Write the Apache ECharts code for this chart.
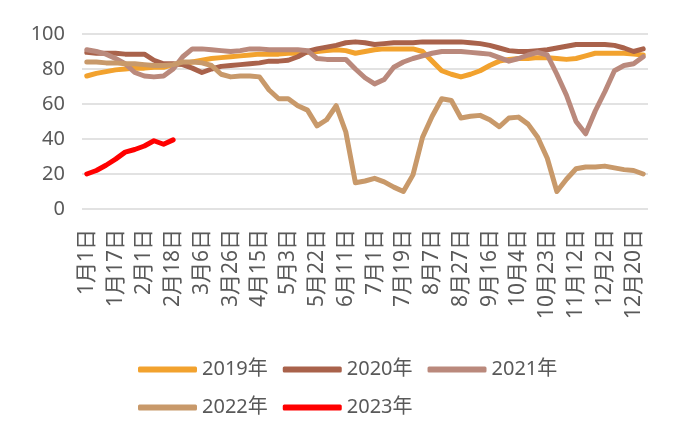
<!DOCTYPE html>
<html>
<head>
<meta charset="utf-8">
<script src="https://cdn.jsdelivr.net/npm/echarts@6/dist/echarts.min.js"></script>
<style>
  html, body { margin: 0; padding: 0; background: #fff; }
  #chart { width: 680px; height: 443px; }
</style>
</head>
<body>
<div id="chart"></div>
<script>
var dates = ['1月1日', '1月6日', '1月11日', '1月17日', '1月22日', '1月27日', '2月1日', '2月7日', '2月12日', '2月18日',
  '2月23日', '3月1日', '3月6日', '3月13日', '3月19日', '3月26日', '4月2日', '4月8日', '4月15日', '4月21日',
  '4月27日', '5月3日', '5月9日', '5月15日', '5月22日', '5月28日', '6月4日', '6月11日', '6月18日', '6月24日',
  '7月1日', '7月7日', '7月13日', '7月19日', '7月25日', '7月31日', '8月7日', '8月14日', '8月20日', '8月27日',
  '9月3日', '9月9日', '9月16日', '9月22日', '9月28日', '10月4日', '10月10日', '10月16日', '10月23日', '10月30日',
  '11月5日', '11月12日', '11月19日', '11月25日', '12月2日', '12月8日', '12月14日', '12月20日', '12月26日'];

var y2019 = [76, 77.5, 78.5, 79.5, 80, 80.5, 80.5, 81, 81, 82.5,
  83, 84, 85, 86, 86.5, 87, 87.5, 88, 88.5, 88.5,
  88.5, 89, 89, 89.5, 90, 90.5, 91, 90.5, 89, 90,
  91, 91.5, 91.5, 91.5, 91.5, 90, 84.5, 79, 77, 75.5,
  77, 79, 82, 84.5, 85.5, 86, 86, 86.5, 86.5, 86,
  85.5, 86, 87.5, 89, 89, 89, 89, 88.5, 88];
var y2020 = [89.5, 89, 89, 89, 88.5, 88.5, 88.5, 85, 83, 83,
  82.5, 80.5, 78, 80, 81.5, 82, 82.5, 83, 83.5, 84.5,
  84.5, 85, 87, 90, 91.5, 92.5, 93.5, 95, 95.5, 95,
  94, 94.5, 95, 95, 95, 95.5, 95.5, 95.5, 95.5, 95.5,
  95, 94.5, 93.5, 92, 90.5, 90, 90, 90.5, 91, 92,
  93, 94, 94, 94, 94, 93.5, 92, 90, 91.5];
var y2021 = [91, 90, 88.5, 86, 83, 78, 76, 75.5, 76, 80,
  87, 91.5, 91.5, 91, 90.5, 90, 90.5, 91.5, 91.5, 91,
  91, 91, 91, 90.5, 86, 85.5, 85.5, 85.5, 80, 75,
  71.5, 74, 81, 84, 86, 87.5, 89, 90, 90, 90,
  89.5, 89, 88.5, 86.5, 84.5, 86, 88, 89.5, 88, 77,
  65, 50, 43, 56, 67, 79, 82, 83, 87];
var y2022 = [84, 84, 83.5, 83.5, 83, 83, 82.5, 82, 82, 82.5,
  84, 84, 83.5, 82, 77, 75.5, 76, 76, 75.5, 68,
  63, 63, 59, 56.5, 47.5, 51, 59, 44, 15, 16,
  17.5, 15.5, 12.5, 10, 19.5, 41, 53, 63, 62, 52,
  53, 53.5, 51, 47, 52, 52.5, 48.5, 41, 29, 10,
  17, 23, 24, 24, 24.5, 23.5, 22.5, 22, 20];
var y2023 = [20, 22, 25, 28.5, 32.5, 34, 36, 39, 37, 39.5];

var seriesNames = ['2019年', '2020年', '2021年', '2022年', '2023年'];
var seriesData = [y2019, y2020, y2021, y2022, y2023];
var colors = ['#F2A22E', '#A9624B', '#BA897C', '#C8996A', '#FF0000'];

var fontFamily = '"Noto Sans", "Noto Sans CJK SC", sans-serif';
var chart = echarts.init(document.getElementById('chart'));

var series = seriesNames.map(function (name, i) {
  return {
    name: name,
    type: 'line',
    data: seriesData[i],
    symbol: 'none',
    lineStyle: { width: 5, color: colors[i], cap: 'round', join: 'round' },
    itemStyle: { color: colors[i] }
  };
});

var option = {
  backgroundColor: '#fff',
  animation: false,
  color: colors,
  grid: { left: 82, right: 32, top: 34, bottom: 234 },
  legend: {
    data: seriesNames,
    left: 133,
    top: 353,
    width: 440,
    itemWidth: 59,
    itemHeight: 6,
    itemGap: 15,
    icon: 'roundRect',
    textStyle: { fontSize: 20, color: '#595959', fontFamily: fontFamily, lineHeight: 23 }
  },
  xAxis: {
    type: 'category',
    data: dates,
    boundaryGap: true,
    axisLine: { show: false },
    axisTick: { show: false },
    axisLabel: {
      interval: 2,
      rotate: 90,
      margin: 20,
      fontSize: 21,
      color: '#595959',
      fontFamily: fontFamily
    }
  },
  yAxis: {
    type: 'value',
    min: 0,
    max: 100,
    interval: 20,
    axisLine: { show: false },
    axisTick: { show: false },
    axisLabel: { fontSize: 20, color: '#595959', margin: 17, fontFamily: fontFamily },
    splitLine: { lineStyle: { color: '#D9D9D9', width: 1.5 } }
  },
  series: series
};

chart.setOption(option);
</script>
</body>
</html>
